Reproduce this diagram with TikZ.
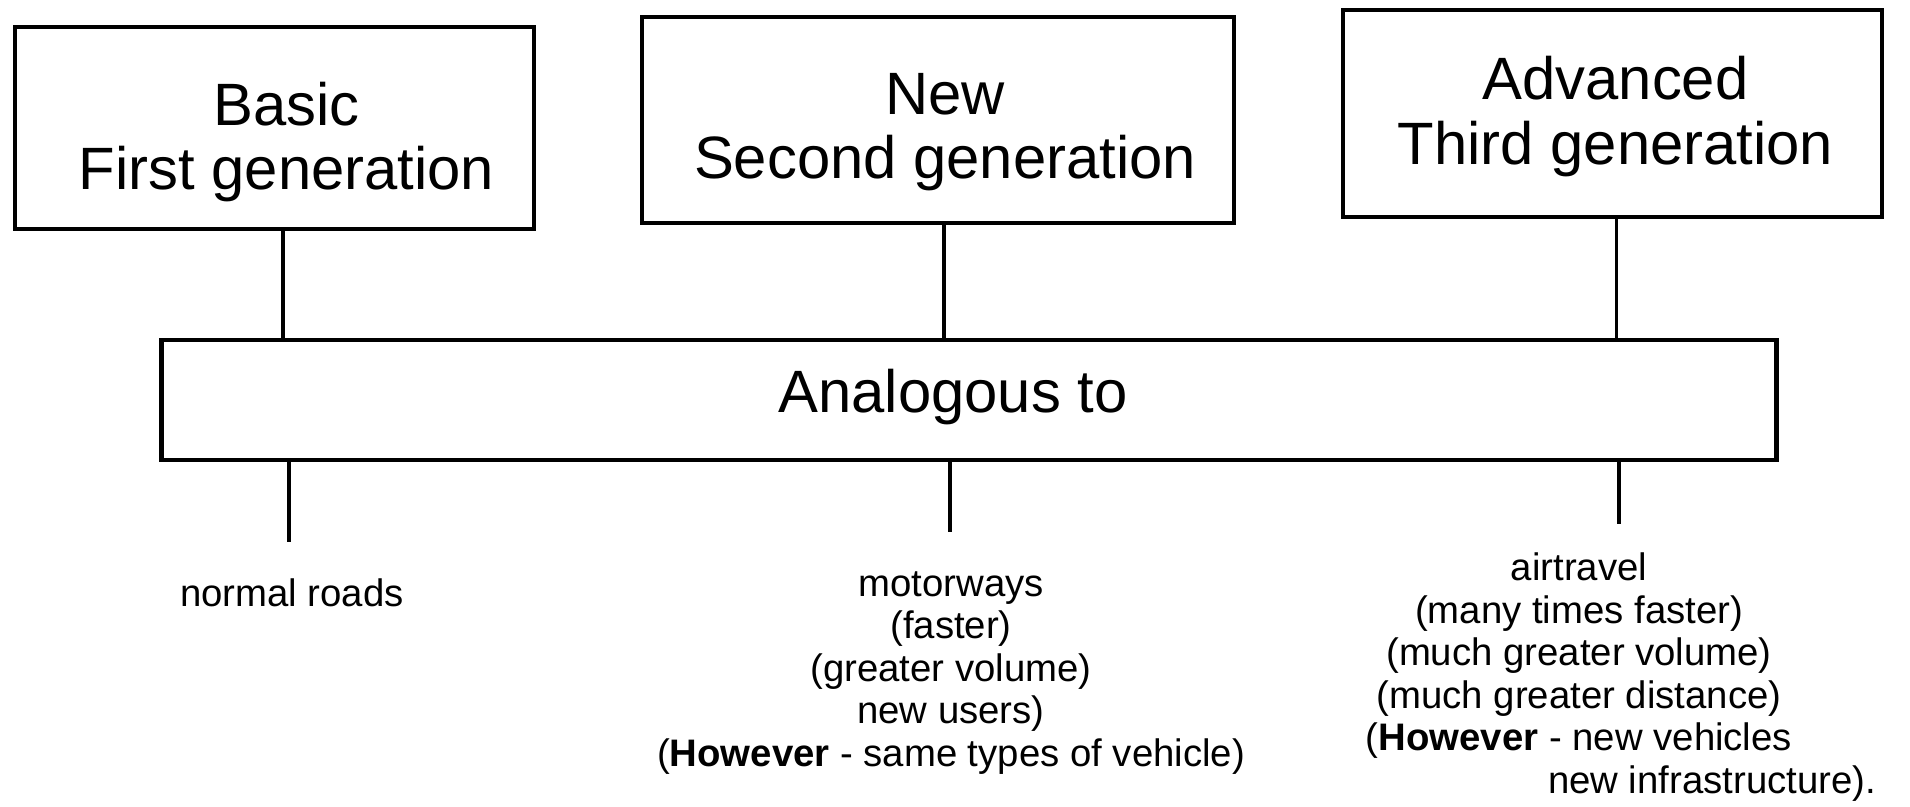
\documentclass[tikz,border=0pt]{standalone}
\usepackage{fontspec}
\setmainfont{Liberation Sans}

\begin{document}
\begin{tikzpicture}[x=0.01cm, y=-0.01cm,
    genbox/.style={draw, line width=1.3pt},
    gentext/.style={align=center, font=\fontsize{17}{18.4}\selectfont},
    usetext/.style={align=center, font=\fontsize{10.9}{12.1}\selectfont},
    link/.style={line width=0.9pt}]
            \useasboundingbox (0,0) rectangle (1910,807);

            \node[genbox, minimum width=5.19cm, minimum height=2.02cm,
                label={[gentext, xshift=0.12cm, yshift=-0.14cm]center:{Basic\\First generation}}] (basic) at (274.5,128) {};
            \node[genbox, minimum width=5.92cm, minimum height=2.06cm,
                label={[gentext, xshift=0.07cm, yshift=-0.12cm]center:{New\\Second generation}}] (new) at (938,120) {};
            \node[genbox, minimum width=5.39cm, minimum height=2.07cm,
                label={[gentext, xshift=0.03cm, yshift=-0.03cm]center:{Advanced\\Third generation}}] (adv) at (1612.5,113.5) {};
            \node[genbox, minimum width=16.14cm, minimum height=1.2cm,
                label={[gentext, xshift=-0.16cm, yshift=0.03cm]center:{Analogous to}}] (ana) at (969,400) {};

            \coordinate (e1) at (289,542);
            \coordinate (e2) at (950,532);
            \coordinate (e3) at (1619,524);

            \node[usetext] (roads) at (292,593) {normal roads};
            \node[usetext] (motor) at (951,673) {motorways\\(faster)\\(greater volume)\\new users)\\(\textbf{However} - same types of vehicle)};
            \node[usetext] (air) at (1579,677) {airtravel\\(many times faster)\\(much greater volume)\\(much greater distance)\\(\textbf{However} - new vehicles\\\hspace*{2.66cm}new infrastructure).};

            \draw[link] ([xshift=0.085cm]basic.south) -- ([xshift=0.085cm]basic.south |- ana.north);
            \draw[link] ([xshift=0.06cm]new.south) -- ([xshift=0.06cm]new.south |- ana.north);
            \draw[link] ([xshift=0.04cm]adv.south) -- ([xshift=0.04cm]adv.south |- ana.north);
            \draw[link] (ana.south -| e1) -- (e1);
            \draw[link] (ana.south -| e2) -- (e2);
            \draw[link] (ana.south -| e3) -- (e3);
        \end{tikzpicture}
\end{document}
